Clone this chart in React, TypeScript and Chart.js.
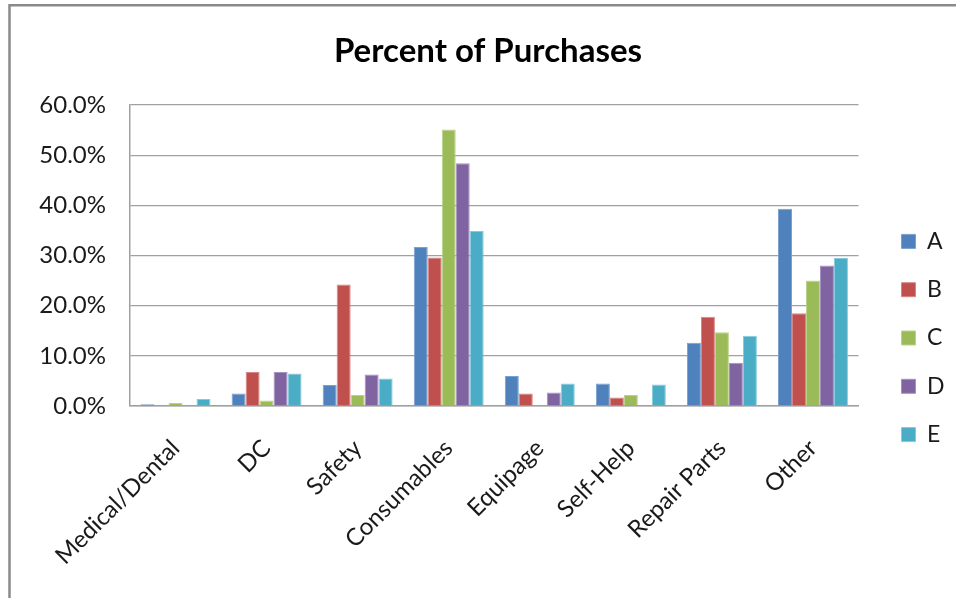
import React, { useEffect, useRef } from "react";
import { Chart, registerables } from "chart.js";

Chart.register(...registerables);

const categories = ["Medical/Dental", "DC", "Safety", "Consumables", "Equipage", "Self-Help", "Repair Parts", "Other"];
const seriesNames = ["A", "B", "C", "D", "E"];
const valuesA = [0.35, 2.5, 4.2, 31.7, 6.0, 4.5, 12.6, 39.3];
const valuesB = [0, 6.8, 24.2, 29.6, 2.5, 1.7, 17.8, 18.5];
const valuesC = [0.6, 1.1, 2.2, 55.1, 0, 2.2, 14.7, 25.0];
const valuesD = [0, 6.8, 6.3, 48.4, 2.7, 0, 8.6, 28.0];
const valuesE = [1.4, 6.5, 5.5, 34.9, 4.5, 4.3, 14.0, 29.5];
const seriesColors = ["#4F81BD", "#C0504D", "#9BBB59", "#8064A2", "#4BACC6"];
const seriesBorders = ["#7A9FD0", "#D88583", "#B9D38A", "#A590C0", "#86CBDD"];
const yTicks = [0, 10, 20, 30, 40, 50, 60];

const FONT = "Lato, 'Open Sans', sans-serif";

const framePlugin = {
  id: "frame",
  beforeDraw(chart: any) {
    const ctx = chart.ctx;
    ctx.save();
    ctx.fillStyle = "#ffffff";
    ctx.fillRect(0, 0, chart.width, chart.height);
    ctx.strokeStyle = "#8a8a8a";
    ctx.lineWidth = 2.5;
    ctx.beginPath();
    ctx.moveTo(9.5, chart.height);
    ctx.lineTo(9.5, 5.2);
    ctx.lineTo(chart.width, 5.2);
    ctx.stroke();
    ctx.restore();
  },
};

export default function App() {
  const ref = useRef<HTMLCanvasElement | null>(null);
  useEffect(() => {
    if (!ref.current) return;
    const all = [valuesA, valuesB, valuesC, valuesD, valuesE];
    const chart = new Chart(ref.current, {
      type: "bar",
      data: {
        labels: categories,
        datasets: seriesNames.map((name, i) => ({
          label: name,
          data: all[i],
          backgroundColor: seriesColors[i],
          borderColor: seriesBorders[i],
          borderWidth: 1,
          categoryPercentage: 0.768,
          barPercentage: 1,
        })),
      },
      options: {
        responsive: false,
        animation: false,
        layout: { padding: { left: 21.5, right: 1.5, top: 10, bottom: 0 } },
        plugins: {
          tooltip: { enabled: false },
          title: {
            display: true,
            text: "Percent of Purchases",
            color: "#000000",
            font: { family: FONT, size: 33, weight: "bold" },
            padding: { top: 21.2, bottom: 34.2 },
          },
          legend: {
            position: "right",
            title: { display: true, text: " ", font: { size: 10 }, padding: { top: 56, bottom: 0 } },
            labels: {
              boxWidth: 14,
              boxHeight: 14,
              padding: 25.3,
              color: "#1a1a1a",
              font: { family: FONT, size: 23 },
            },
          },
        },
        scales: {
          x: {
            grid: { display: false, drawTicks: false },
            border: { display: true, color: "#a0a0a0", width: 1.5 },
            ticks: {
              minRotation: 45,
              maxRotation: 45,
              autoSkip: false,
              padding: 28,
              color: "#1a1a1a",
              font: { family: FONT, size: 24 },
            },
            afterFit: (s: any) => {
              s.height = 192;
            },
          },
          y: {
            min: 0,
            max: 60,
            afterBuildTicks: (s: any) => {
              s.ticks = yTicks.map((v) => ({ value: v }));
            },
            grid: { color: "#a0a0a0", lineWidth: 1.2, drawTicks: false },
            border: { display: true, color: "#a0a0a0", width: 1.5 },
            ticks: {
              padding: 24,
              color: "#1a1a1a",
              font: { family: FONT, size: 24 },
              callback: (v: any) => Number(v).toFixed(1) + "%",
            },
            afterFit: (s: any) => {
              s.width = 108.5;
            },
          },
          y2: {
            position: "right",
            display: true,
            grid: { display: false, drawTicks: false },
            border: { display: false },
            ticks: { display: false },
            afterFit: (s: any) => {
              s.width = 17.7;
            },
          },
        },
      },
      plugins: [framePlugin],
    });
    return () => chart.destroy();
  }, []);
  return (
    <div style={{ position: "fixed", left: 0, top: 0, width: 956, height: 598, background: "#fff" }}>
      <canvas ref={ref} width={956} height={598} style={{ display: "block" }} />
    </div>
  );
}
